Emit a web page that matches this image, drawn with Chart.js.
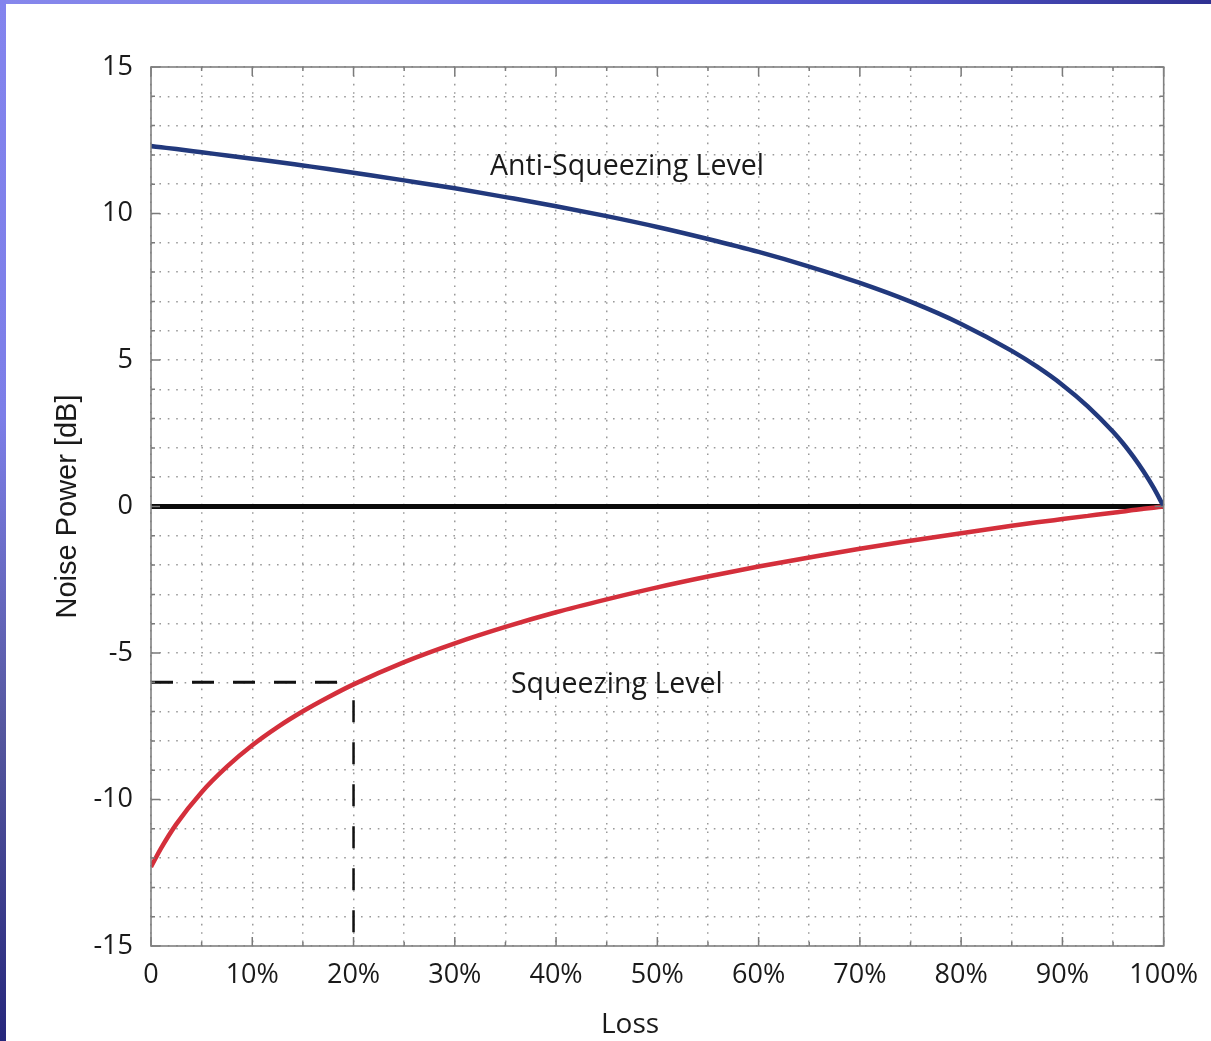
<!DOCTYPE html>
<html>
<head>
<meta charset="utf-8">
<title>Noise Power vs Loss</title>
<script src="https://cdn.jsdelivr.net/npm/chart.js@4/dist/chart.umd.min.js"></script>
<style>
  html, body { margin: 0; padding: 0; background: #ffffff; }
  #wrap { position: relative; width: 1211px; height: 1041px; overflow: hidden; background: #ffffff; }
  #topbar { position: absolute; left: 0; top: 0; width: 1211px; height: 4px;
    background: linear-gradient(to right, #8687ec 0%, #7d80e6 30%, #6468e0 50%, #4f52c4 75%, #2f3192 100%); }
  #leftbar { position: absolute; left: 0; top: 0; width: 6px; height: 1041px;
    background: linear-gradient(to bottom, #8384ee 0%, #7c7ee8 40%, #55579f 70%, #26277c 100%); }
  canvas { position: absolute; left: 0; top: 0; }
</style>
</head>
<body>
<div id="wrap">
  <canvas id="chart" width="1211" height="1041"></canvas>
  <div id="topbar"></div>
  <div id="leftbar"></div>
</div>
<script>
// Loss in percent, and the noise power (dB) of each quadrature at that loss
const lossPct = [0, 1, 2.5, 5, 7.5, 10, 12.5, 15, 17.5, 20, 25, 30, 35, 40, 45, 50, 55, 60, 65, 70, 75, 80, 85, 87.5, 90, 92.5, 95, 96, 97, 98, 99, 100];
const antiSqueezingDb = [12.30, 12.26, 12.20, 12.09, 11.98, 11.87, 11.76, 11.64, 11.52, 11.39, 11.13, 10.86, 10.56, 10.25, 9.91, 9.54, 9.13, 8.69, 8.19, 7.63, 6.99, 6.23, 5.31, 4.77, 4.15, 3.42, 2.55, 2.15, 1.70, 1.20, 0.64, 0];
const squeezingDb = [-12.30, -11.66, -10.84, -9.75, -8.88, -8.15, -7.53, -6.99, -6.51, -6.07, -5.31, -4.67, -4.11, -3.61, -3.17, -2.76, -2.39, -2.05, -1.74, -1.44, -1.17, -0.91, -0.66, -0.54, -0.43, -0.32, -0.21, -0.17, -0.12, -0.08, -0.04, 0];

// Marked operating point: 20 % loss gives -6 dB squeezing
const markLossPct = 20;
const markDb = -6;

// Axis tick labels
const xTickLabels = ['0', '10%', '20%', '30%', '40%', '50%', '60%', '70%', '80%', '90%', '100%'];
const yTickLabels = ['-15', '-10', '-5', '0', '5', '10', '15'];

const curveLabels = { anti: 'Anti-Squeezing Level', squeeze: 'Squeezing Level' };
const axisTitles = { x: 'Loss', y: 'Noise Power [dB]' };

const toPoints = (xs, ys) => xs.map((x, i) => ({ x: x, y: ys[i] }));

const tickFont = { family: '"Open Sans", "Noto Sans", sans-serif', size: 27 };

// Frame, inward tick marks, axis titles and curve labels
const decorations = {
  id: 'decorations',
  afterDatasetsDraw(chart) {
    const { ctx, chartArea: a, scales: { x, y } } = chart;
    ctx.save();
    // inward ticks on all four sides
    ctx.strokeStyle = '#7a7a7a';
    ctx.lineWidth = 1.5;
    for (let v = -15; v <= 15; v++) {
      const py = y.getPixelForValue(v);
      const len = (v % 5 === 0) ? 9 : 4;
      ctx.beginPath();
      ctx.moveTo(a.left, py); ctx.lineTo(a.left + len, py);
      ctx.moveTo(a.right, py); ctx.lineTo(a.right - len, py);
      ctx.stroke();
    }
    for (let v = 0; v <= 100; v += 5) {
      const px = x.getPixelForValue(v);
      const len = (v % 10 === 0) ? 9 : 4;
      ctx.beginPath();
      ctx.moveTo(px, a.bottom); ctx.lineTo(px, a.bottom - len);
      ctx.moveTo(px, a.top); ctx.lineTo(px, a.top + len);
      ctx.stroke();
    }
    // plot box
    ctx.strokeStyle = '#808080';
    ctx.lineWidth = 1.6;
    ctx.strokeRect(a.left, a.top, a.right - a.left, a.bottom - a.top);

    // curve labels
    ctx.fillStyle = '#1a1a1a';
    ctx.font = '28.5px "Open Sans", "Noto Sans", sans-serif';
    ctx.textAlign = 'center';
    ctx.textBaseline = 'middle';
    ctx.fillText(curveLabels.anti, x.getPixelForValue(47), y.getPixelForValue(11.6));
    ctx.fillText(curveLabels.squeeze, x.getPixelForValue(46), y.getPixelForValue(-6.08));

    // axis titles
    ctx.font = '28px "Open Sans", "Noto Sans", sans-serif';
    ctx.fillText(axisTitles.x, 630, 1025);
    ctx.save();
    ctx.translate(68, (a.top + a.bottom) / 2);
    ctx.rotate(-Math.PI / 2);
    ctx.font = '29px "Liberation Sans", Arial, sans-serif';
    ctx.fillText(axisTitles.y, 0, 0);
    ctx.restore();
    ctx.restore();
  }
};

new Chart(document.getElementById('chart'), {
  type: 'line',
  data: {
    datasets: [
      {
        label: 'zero',
        data: [{ x: 0, y: 0 }, { x: 100, y: 0 }],
        borderColor: '#0a0a0a',
        borderWidth: 5,
        pointRadius: 0,
        order: 3
      },
      {
        label: curveLabels.anti,
        data: toPoints(lossPct, antiSqueezingDb),
        borderColor: '#22397d',
        borderWidth: 4.5,
        pointRadius: 0,
        cubicInterpolationMode: 'monotone',
        order: 1
      },
      {
        label: curveLabels.squeeze,
        data: toPoints(lossPct, squeezingDb),
        borderColor: '#d42f3b',
        borderWidth: 4.5,
        pointRadius: 0,
        cubicInterpolationMode: 'monotone',
        order: 1
      },
      {
        label: 'mark-h',
        data: [{ x: 0, y: markDb }, { x: markLossPct, y: markDb }],
        borderColor: '#111111',
        borderWidth: 3,
        borderDash: [22, 19],
        pointRadius: 0,
        order: 2
      },
      {
        label: 'mark-v',
        data: [{ x: markLossPct, y: markDb }, { x: markLossPct, y: -15 }],
        borderColor: '#111111',
        borderWidth: 2.5,
        borderDash: [22, 20],
        borderDashOffset: 24,
        pointRadius: 0,
        order: 2
      }
    ]
  },
  options: {
    responsive: false,
    animation: false,
    events: [],
    layout: { padding: { top: 67, right: 44, left: 0, bottom: 0 } },
    plugins: { legend: { display: false }, tooltip: { enabled: false } },
    scales: {
      x: {
        type: 'linear',
        min: 0, max: 100,
        afterFit(s) { s.height = 95; },
        afterBuildTicks(s) {
          s.ticks = [];
          for (let v = 0; v <= 100; v += 5) s.ticks.push({ value: v });
        },
        ticks: {
          autoSkip: false,
          maxRotation: 0,
          padding: 13,
          color: '#1a1a1a',
          font: tickFont,
          callback: (v) => (v % 10 === 0 ? xTickLabels[v / 10] : '')
        },
        grid: { color: '#9a9a9a', lineWidth: 1.5, drawTicks: false },
        border: { display: false, dash: [1.6, 6.8] }
      },
      y: {
        type: 'linear',
        min: -15, max: 15,
        afterFit(s) { s.width = 151; },
        afterBuildTicks(s) {
          s.ticks = [];
          for (let v = -15; v <= 15; v++) s.ticks.push({ value: v });
        },
        ticks: {
          autoSkip: false,
          padding: 18,
          color: '#1a1a1a',
          font: tickFont,
          callback: (v) => (v % 5 === 0 ? yTickLabels[(v + 15) / 5] : '')
        },
        grid: { color: '#9a9a9a', lineWidth: 1.5, drawTicks: false },
        border: { display: false, dash: [1.6, 6.8] }
      }
    }
  },
  plugins: [decorations]
});
</script>
</body>
</html>
